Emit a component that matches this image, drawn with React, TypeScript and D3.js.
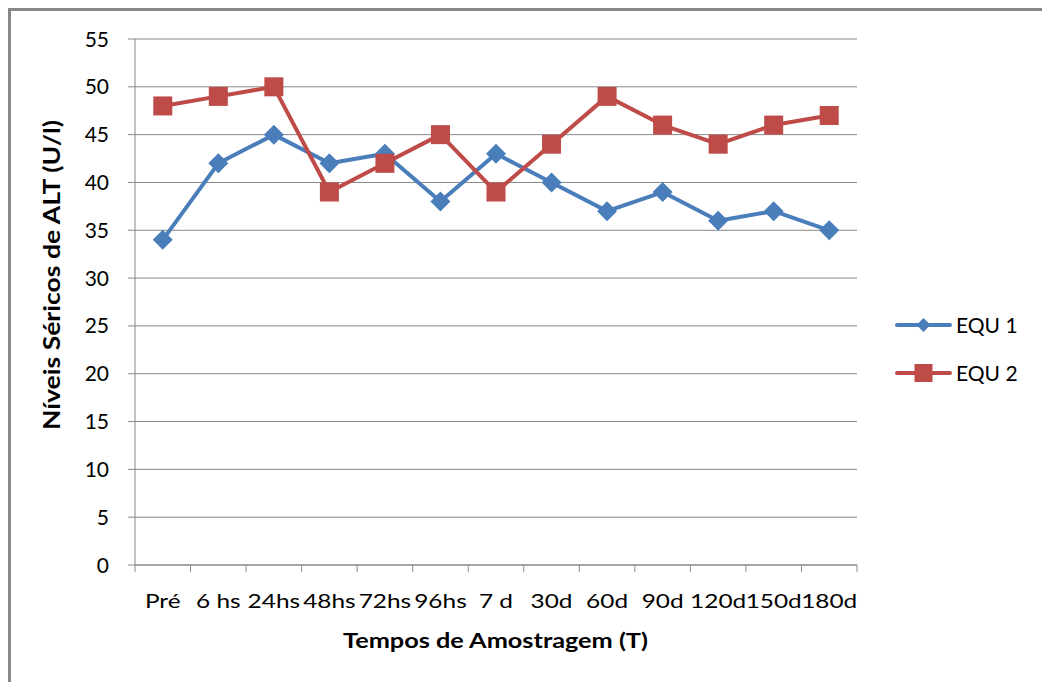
import React from "react";
import * as d3 from "d3";

const categories = ["Pré", "6 hs", "24hs", "48hs", "72hs", "96hs", "7 d", "30d", "60d", "90d", "120d", "150d", "180d"];
const equ1 = [34, 42, 45, 42, 43, 38, 43, 40, 37, 39, 36, 37, 35];
const equ2 = [48, 49, 50, 39, 42, 45, 39, 44, 49, 46, 44, 46, 47];
const yTicks = [0, 5, 10, 15, 20, 25, 30, 35, 40, 45, 50, 55];

const series = [
  { name: "EQU 1", values: equ1, color: "#4A7EBB", marker: "diamond" },
  { name: "EQU 2", values: equ2, color: "#BE4B48", marker: "square" },
];

const W = 1042;
const H = 682;
const left = 135;
const right = 857;
const top = 39;
const bottom = 565;
const FONT = "Lato, 'Open Sans', sans-serif";

export default function App() {
  const x = d3.scaleBand<string>().domain(categories).range([left, right]);
  const y = d3.scaleLinear().domain([0, 55]).range([bottom, top]);
  const cx = (i: number) => (x(categories[i]) as number) + x.bandwidth() / 2;
  const line = d3
    .line<number>()
    .x((_, i) => cx(i))
    .y((v) => y(v));

  const marker = (type: string, mx: number, my: number, color: string, s: number, key: string | number) =>
    type === "square" ? (
      <rect key={key} x={mx - s / 2} y={my - s / 2} width={s} height={s} fill={color} />
    ) : (
      <path key={key} d={`M${mx},${my - s / 2}L${mx + s / 2},${my}L${mx},${my + s / 2}L${mx - s / 2},${my}Z`} fill={color} />
    );

  const boundaries = d3.range(categories.length + 1).map((i) => left + i * x.step());

  return (
    <svg width={W} height={H} style={{ position: "absolute", left: 0, top: 0, background: "#fff" }} fontFamily={FONT}>
      <rect x={0} y={0} width={W} height={H} fill="#fff" />
      <rect x={9.5} y={9.5} width={W + 20} height={H + 20} fill="none" stroke="#878787" strokeWidth={3} />
      {/* gridlines */}
      {yTicks.map((t) => (
        <line key={t} x1={left - 7} x2={right} y1={y(t)} y2={y(t)} stroke="#888" strokeWidth={1} />
      ))}
      {/* axes */}
      <line x1={left} x2={left} y1={top} y2={bottom} stroke="#888" strokeWidth={1} />
      <line x1={left} x2={right} y1={bottom} y2={bottom} stroke="#888" strokeWidth={1} />
      {boundaries.map((b, i) => (
        <line key={i} x1={b} x2={b} y1={bottom} y2={bottom + 7} stroke="#888" strokeWidth={1} />
      ))}
      {/* y tick labels */}
      {yTicks.map((t) => (
        <text key={t} x={109} y={y(t)} dy="0.36em" textAnchor="end" fontSize={21} fill="#000">
          {t}
        </text>
      ))}
      {/* x tick labels */}
      {categories.map((c, i) => (
        <text
          key={c}
          transform={`translate(${cx(i)},608) scale(1.22,1)`}
          textAnchor="middle"
          fontSize={20}
          fill="#000"
        >
          {c}
        </text>
      ))}
      {/* axis titles */}
      <text
        x={343}
        y={648}
        textLength={305}
        lengthAdjust="spacingAndGlyphs"
        fontSize={21}
        fontWeight="bold"
        fill="#000"
      >
        Tempos de Amostragem (T)
      </text>
      <text
        transform={`translate(60,430) rotate(-90)`}
        x={0}
        y={0}
        textLength={310}
        lengthAdjust="spacingAndGlyphs"
        fontSize={23}
        fontWeight="bold"
        fill="#000"
      >
        Níveis Séricos de ALT (U/l)
      </text>
      {/* series */}
      {series.map((s) => (
        <g key={s.name}>
          <path d={line(s.values) as string} fill="none" stroke={s.color} strokeWidth={4} strokeLinejoin="round" />
          {s.values.map((v, i) =>
            marker(s.marker, cx(i), y(v), s.color, s.marker === "square" ? 19 : 20, i)
          )}
        </g>
      ))}
      {/* legend */}
      {series.map((s, i) => {
        const ly = 325 + i * 48;
        return (
          <g key={s.name}>
            <line x1={897} x2={950} y1={ly} y2={ly} stroke={s.color} strokeWidth={4} strokeLinecap="round" />
            {marker(s.marker, 923.5, ly, s.color, s.marker === "square" ? 18 : 14, "m")}
            <text x={956} y={ly} dy="0.36em" fontSize={21} fill="#000">
              {s.name}
            </text>
          </g>
        );
      })}
    </svg>
  );
}
